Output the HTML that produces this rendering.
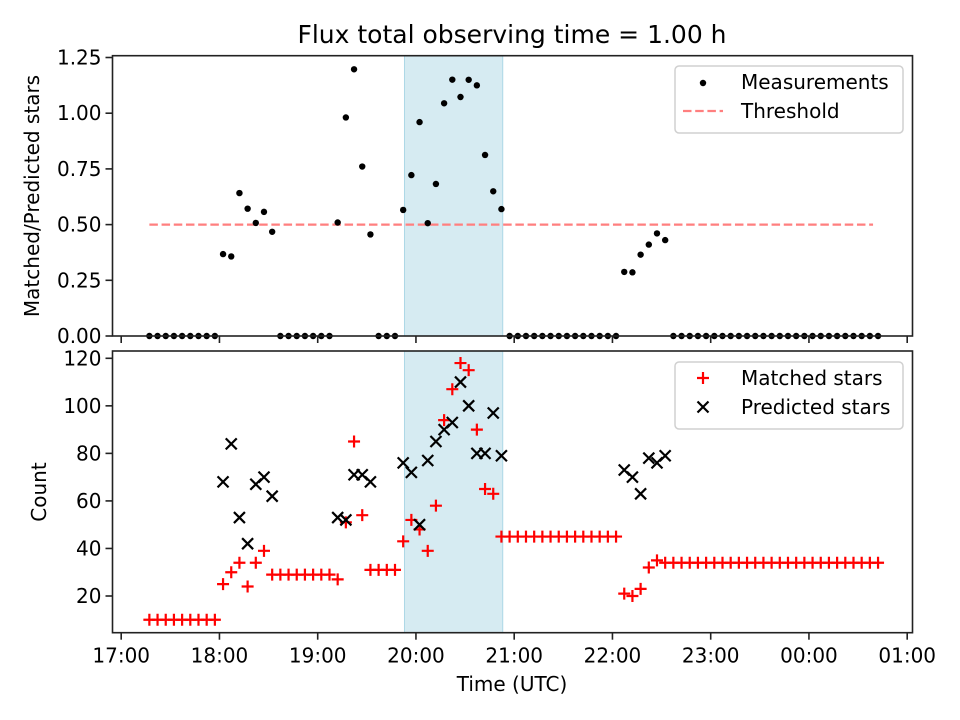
<!DOCTYPE html>
<html><head><meta charset="utf-8"><style>
html,body{margin:0;padding:0;background:#fff;}
svg{display:block;font-family:"DejaVu Sans","Liberation Sans",sans-serif;}
</style></head><body>
<svg id="chart" width="960" height="720" viewBox="0 0 960 720" xmlns="http://www.w3.org/2000/svg">
<rect width="960" height="720" fill="#fff"/>
<text x="512" y="43" text-anchor="middle" font-size="25">Flux total observing time = 1.00 h</text>
<g id="topPanel"></g><g id="botPanel"></g>
</svg>
<script>
// time in minutes since 17:00
const times = [17.2,22.2,27.2,32.2,37.2,42.2,47.2,52.2,57.2,62.2,67.2,72.2,77.2,82.2,87.2,92.2,97.2,102.2,107.2,112.2,117.2,122.2,127.2,132.2,137.2,142.2,147.2,152.2,157.2,162.2,167.2,172.2,177.2,182.2,187.2,192.2,197.2,202.2,207.2,212.2,217.2,222.2,227.2,232.2,237.2,242.2,247.2,252.2,257.2,262.2,267.2,272.2,277.2,282.2,287.2,292.2,297.2,302.2,307.2,312.2,317.2,322.2,327.2,332.2,337.2,342.2,347.2,352.2,357.2,362.2,367.2,372.2,377.2,382.2,387.2,392.2,397.2,402.2,407.2,412.2,417.2,422.2,427.2,432.2,437.2,442.2,447.2,452.2,457.2,462.2];
const matched = [10,10,10,10,10,10,10,10,10,25,30,34,24,34,39,29,29,29,29,29,29,29,29,27,51,85,54,31,31,31,31,43,52,48,39,58,94,107,118,115,90,65,63,45,45,45,45,45,45,45,45,45,45,45,45,45,45,45,21,20,23,32,35,34,34,34,34,34,34,34,34,34,34,34,34,34,34,34,34,34,34,34,34,34,34,34,34,34,34,34];
const predicted = [null,null,null,null,null,null,null,null,null,68,84,53,42,67,70,62,null,null,null,null,null,null,null,53,52,71,71,68,null,null,null,76,72,50,77,85,90,93,110,100,80,80,97,79,null,null,null,null,null,null,null,null,null,null,null,null,null,null,73,70,63,78,76,79,null,null,null,null,null,null,null,null,null,null,null,null,null,null,null,null,null,null,null,null,null,null,null,null,null,null];
const xTickLabels = ["17:00","18:00","19:00","20:00","21:00","22:00","23:00","00:00","01:00"];
const topYTicks = [0,0.25,0.5,0.75,1.0,1.25];
const topYLabels = ["0.00","0.25","0.50","0.75","1.00","1.25"];
const botYTicks = [20,40,60,80,100,120];
const threshold = [0.5];
const shade = [173, 233]; // minutes since 17:00

const NS="http://www.w3.org/2000/svg";
const L=112.5,R=912.5;
const X=m=>121.2+m/60*98.25;
const YT=v=>336-v*222.8;
const YB=v=>358.3+(120-v)*2.377;
function mk(p,tag,a){const e=document.createElementNS(NS,tag);for(const k in a)e.setAttribute(k,a[k]);p.appendChild(e);return e;}
const gTop=document.getElementById('topPanel'),gBot=document.getElementById('botPanel');




const panels=[[gTop,55.7,336],[gBot,351,632.7]];
// shading
for(const [g,t,b] of panels){
  const s=mk(g,'rect',{x:X(shade[0]),y:t,width:X(shade[1])-X(shade[0]),height:b-t,fill:'#add8e6','fill-opacity':0.5,stroke:'#add8e6','stroke-width':1});
  
  
}
// threshold
const th=mk(gTop,'line',{x1:X(times[0]),x2:X(times[times.length-1])-5,y1:YT(threshold[0]),y2:YT(threshold[0]),stroke:'#ff7f7f','stroke-width':2.2,'stroke-dasharray':'8.5,3.7'});


// ratio points
times.forEach((t,i)=>{
  const r=predicted[i]?matched[i]/predicted[i]:0;
  const c=mk(gTop,'circle',{cx:X(t),cy:YT(r),r:3.2,fill:'#000'});
  
  
});
// bottom markers
times.forEach((t,i)=>{
  const x=X(t),y=YB(matched[i]);
  const p=mk(gBot,'path',{d:`M${x-6},${y}H${x+6}M${x},${y-6}V${y+6}`,stroke:'#f00','stroke-width':2.2});
  
  
});
times.forEach((t,i)=>{
  if(predicted[i]==null)return;
  const x=X(t),y=YB(predicted[i]);
  const p=mk(gBot,'path',{d:`M${x-5.5},${y-5.5}L${x+5.5},${y+5.5}M${x-5.5},${y+5.5}L${x+5.5},${y-5.5}`,stroke:'#000','stroke-width':2.2});
  
  
});
// axes frames and ticks
for(const [g,t,b] of panels){
  const f=mk(g,'rect',{x:L,y:t,width:R-L,height:b-t,fill:'none',stroke:'#222','stroke-width':1.6});
  
  
  xTickLabels.forEach((lab,i)=>{
    const x=X(i*60);
    const tk=mk(g,'line',{x1:x,x2:x,y1:b,y2:b+7,stroke:'#222','stroke-width':1.6});
    
    
    if(g===gBot){
      const tx=mk(g,'text',{x:x,y:b+30,'text-anchor':'middle','font-size':20});
      tx.textContent=lab;
      
      
    }
  });
}
topYTicks.forEach((v,i)=>{
  const y=YT(v);
  const tk=mk(gTop,'line',{x1:L-7,x2:L,y1:y,y2:y,stroke:'#222','stroke-width':1.6});
  
  
  const tx=mk(gTop,'text',{x:L-11,y:y+7,'text-anchor':'end','font-size':20});
  tx.textContent=topYLabels[i];
  
  
});
botYTicks.forEach(v=>{
  const y=YB(v);
  const tk=mk(gBot,'line',{x1:L-7,x2:L,y1:y,y2:y,stroke:'#222','stroke-width':1.6});
  
  
  const tx=mk(gBot,'text',{x:L-11,y:y+7,'text-anchor':'end','font-size':20});
  tx.textContent=String(v);
  
  
});
// axis titles
let a=mk(gTop,'text',{x:0,y:0,'text-anchor':'middle','font-size':20,transform:'translate(39,196) rotate(-90)'});
a.textContent='Matched/Predicted stars';


a=mk(gBot,'text',{x:0,y:0,'text-anchor':'middle','font-size':20,transform:'translate(46,492) rotate(-90)'});
a.textContent='Count';


a=mk(gBot,'text',{x:512,y:691,'text-anchor':'middle','font-size':20});
a.textContent='Time (UTC)';


// legends
function legend(g,y0,h,items,name){
  const lg=mk(g,'g',{});
  
  
  mk(lg,'rect',{x:675,y:y0,width:228,height:h,rx:4,fill:'#fff','fill-opacity':0.8,stroke:'#d0d0d0','stroke-width':1.5});
  items.forEach((it,i)=>{
    const cy=y0+16+i*29;
    const e=mk(lg,'g',{});
    
    
    it.draw(e,703,cy);
    const t=mk(e,'text',{x:741,y:cy+7,'font-size':20});
    t.textContent=it.label;
  });
}
legend(gTop,66,67,[
  {label:'Measurements',draw:(e,x,y)=>mk(e,'circle',{cx:x,cy:y+1,r:3.2,fill:'#000'})},
  {label:'Threshold',draw:(e,x,y)=>mk(e,'line',{x1:x-20,x2:x+20,y1:y,y2:y,stroke:'#ff7f7f','stroke-width':2.2,'stroke-dasharray':'8.5,3.7'})}
],'top-legend');
legend(gBot,362,67,[
  {label:'Matched stars',draw:(e,x,y)=>mk(e,'path',{d:`M${x-6},${y}H${x+6}M${x},${y-6}V${y+6}`,stroke:'#f00','stroke-width':2.2})},
  {label:'Predicted stars',draw:(e,x,y)=>mk(e,'path',{d:`M${x-5.5},${y-5.5}L${x+5.5},${y+5.5}M${x-5.5},${y+5.5}L${x+5.5},${y-5.5}`,stroke:'#000','stroke-width':2.2})}
],'bottom-legend');
</script>
</body></html>
